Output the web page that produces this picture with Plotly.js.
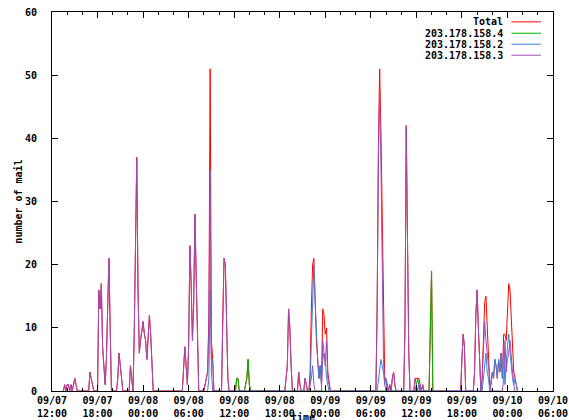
<!DOCTYPE html>
<html>
<head>
<meta charset="utf-8">
<script src="https://cdn.plot.ly/plotly-3.0.1.min.js"></script>
<style>
  html, body { margin: 0; padding: 0; background: #ffffff; }
  #chart { width: 569px; height: 420px; }
</style>
</head>
<body>
<div id="chart"></div>
<script>
// Time = minutes after 09/07 12:00
const tickVals = [0, 360, 720, 1080, 1440, 1800, 2160, 2520, 2880, 3240, 3600, 3960];
const tickText = ["09/07<br>12:00", "09/07<br>18:00", "09/08<br>00:00", "09/08<br>06:00",
                  "09/08<br>12:00", "09/08<br>18:00", "09/09<br>00:00", "09/09<br>06:00",
                  "09/09<br>12:00", "09/09<br>18:00", "09/10<br>00:00", "09/10<br>06:00"];
const seriesNames = ["Total", "203.178.158.4", "203.178.158.2", "203.178.158.3"];

// Total
const tTotal = [90,100,110,120,130,140,150,160,170,180,190,200,
  290,300,310,320,330,
  360,370,380,390,400,410,420,430,440,450,460,470,
  510,520,530,540,550,560,
  610,620,630,640,650,660,670,680,690,700,710,720,730,740,750,760,770,780,790,800,
  1030,1040,1050,1060,1070,1080,1090,1100,1110,1120,1130,1140,1150,1160,
  1200,1210,1220,1230,1240,1250,1260,1270,1280,
  1340,1350,1360,1370,1380,1390,1400,
  1450,1460,1470,1480,1520,1530,1540,1550,1560,1570,
  1840,1850,1860,1870,1880,1890,1900,1940,1950,1960,1970,1990,2000,2010,2020,
  2030,2040,2050,2060,2070,2080,2090,2100,2110,2120,2130,2140,2150,2160,2170,2180,2190,2200,
  2560,2570,2580,2590,2600,2610,2620,2630,2640,2650,2660,2670,2680,2690,2700,2710,2720,
  2780,2790,2800,2810,2820,2830,
  2860,2870,2880,2890,2900,2910,2920,2930,2940,2980,2990,3000,3010,
  3230,3240,3250,3260,3270,
  3330,3340,3350,3360,3370,3380,3390,3400,3410,3420,3430,3440,3450,3460,3470,3480,3490,3500,
  3510,3520,3530,3540,3550,3560,3570,3580,3590,3600,3610,3620,3630,3640,3650,3660,3670,3680];
const vTotal = [0,1,0,1,1,0,1,0,1,2,1,0,
  0,3,2,1,0,
  0,16,13,17,7,3,1,5,13,21,10,0,
  0,2,6,4,1,0,
  0,4,2,0,9,28,37,16,6,8,10,11,9,8,5,9,12,9,3,0,
  0,4,7,4,1,7,23,17,8,14,28,18,6,0,
  0,1,2,3,12,51,8,5,0,
  0,12,21,20,9,2,0,
  0,2,2,0,0,1,2,5,1,0,
  0,2,4,13,10,4,0,0,3,1,0,0,2,1,0,
  0,3,13,20,21,14,8,5,2,4,1,13,12,9,10,3,1,0,
  0,13,39,51,41,28,9,2,2,1,0,1,0,2,3,1,0,
  0,10,42,25,6,0,
  0,2,2,2,2,1,0,1,0,0,9,19,0,
  0,5,9,7,0,
  0,3,12,16,10,3,0,2,9,14,15,10,5,1,1,3,2,5,
  4,2,5,3,6,2,9,9,8,12,17,16,11,7,3,2,1,0];

// 203.178.158.4
const tHost4 = [1450,1460,1470,1480,1520,1530,1540,1550,1560,1570,
  2870,2880,2890,2900,2910,2980,2990,3000,3010];
const vHost4 = [0,2,2,0,0,1,2,5,1,0,
  0,1,2,1,0,0,9,19,0];

// 203.178.158.2
const tHost2 = [1230,1240,1250,1260,1270,1280,
  2030,2040,2050,2060,2070,2080,2090,2100,2110,2120,2130,2140,2150,2160,2170,2180,2190,
  2570,2580,2590,2600,2610,2620,2630,2640,2650,
  2890,2900,2910,
  3400,3410,3420,3430,3440,3450,3460,3470,3480,3490,3500,3510,3520,3530,3540,3550,3560,
  3570,3580,3590,3600,3610,3620,3630,3640,3650,3660,3670,3680];
const vHost2 = [0,2,16,5,5,0,
  0,1,8,16,20,14,8,5,2,4,1,5,6,5,2,1,0,
  0,2,4,5,4,3,1,2,0,
  0,1,0,
  0,2,3,6,3,2,0,1,3,2,5,4,2,5,3,6,2,
  7,1,5,7,9,6,4,2,1,2,1,0];

// 203.178.158.3
const tHost3 = [90,100,110,120,130,140,150,160,170,180,190,200,
  290,300,310,320,330,
  360,370,380,390,400,410,420,430,440,450,460,470,
  510,520,530,540,550,560,
  610,620,630,640,650,660,670,680,690,700,710,720,730,740,750,760,770,780,790,800,
  1030,1040,1050,1060,1070,1080,1090,1100,1110,1120,1130,1140,1150,1160,
  1200,1210,1220,1230,1240,1250,1260,1270,
  1340,1350,1360,1370,1380,1390,1400,
  1840,1850,1860,1870,1880,1890,1900,1940,1950,1960,1970,1990,2000,2010,2020,
  2030,2040,2050,2060,2070,2080,2130,2140,2150,2160,2170,2180,2190,2200,
  2560,2570,2580,2590,2600,2610,2620,2630,2640,2650,2660,2670,2680,2690,2700,2710,2720,
  2780,2790,2800,2810,2820,2830,
  2860,2870,2880,2890,2900,2910,2920,2930,2940,
  3230,3240,3250,3260,3270,
  3330,3340,3350,3360,3370,3380,3390,3400,3410,3420,3430,3440,3450,3460,3470,
  3560,3570,3580,3590,3600,3610,3620,3630,3640,3650,3660];
const vHost3 = [0,1,0,1,1,0,1,0,1,2,1,0,
  0,3,2,1,0,
  0,16,13,17,7,3,1,5,13,21,10,0,
  0,2,6,4,1,0,
  0,4,2,0,9,28,37,16,6,8,10,11,9,8,5,9,12,9,3,0,
  0,4,7,4,1,7,23,17,8,14,28,18,6,0,
  0,1,2,3,10,35,3,0,
  0,12,21,20,9,2,0,
  0,2,4,13,10,4,0,0,3,1,0,0,2,1,0,
  0,1,2,4,1,0,0,8,6,4,8,2,1,0,
  0,13,37,47,36,24,5,1,0,1,0,1,0,2,3,1,0,
  0,10,42,25,6,0,
  0,2,1,0,0,1,0,1,0,
  0,5,9,7,0,
  0,3,12,16,10,3,0,2,7,11,8,6,3,1,0,
  0,2,8,3,5,6,8,5,3,1,0];

const colors = ["#ff0000", "#00b400", "#3c80dc", "#a04cb4"];
const times = [tTotal, tHost4, tHost2, tHost3];
const values = [vTotal, vHost4, vHost2, vHost3];

const FONT = "DejaVu Sans Mono, Liberation Mono, monospace";

const traces = seriesNames.map((name, i) => ({
  type: "scatter",
  mode: "lines",
  name: name,
  x: times[i],
  y: values[i],
  line: { color: colors[i], width: 1 },
  showlegend: false,
  hoverinfo: "x+y+name"
}));

// gnuplot-style key: right-aligned text with the line sample to its right
const keyRowsY = [0.974, 0.944, 0.915, 0.886];
const annotations = seriesNames.map((name, i) => ({
  xref: "paper", yref: "paper", x: 0.905, y: keyRowsY[i],
  xanchor: "right", yanchor: "middle", text: name, showarrow: false,
  font: { family: FONT, size: 10, color: "#000", weight: "bold" }
}));
annotations.push({
  xref: "paper", yref: "paper", x: 0.5, y: -0.07, xanchor: "center", yanchor: "middle",
  text: "time", showarrow: false,
  font: { family: FONT, size: 10, color: "#000", weight: "bold" }
});
const shapes = seriesNames.map((name, i) => ({
  type: "line", xref: "paper", yref: "paper",
  x0: 0.917, x1: 0.976, y0: keyRowsY[i], y1: keyRowsY[i],
  line: { color: colors[i], width: 1 }
}));

const tickFont = { family: FONT, size: 10, color: "#000", weight: "bold" };

const layout = {
  width: 569, height: 420,
  margin: { l: 52, r: 16, t: 12, b: 29 },
  paper_bgcolor: "#ffffff",
  plot_bgcolor: "#ffffff",
  showlegend: false,
  xaxis: {
    range: [0, 3960],
    tickmode: "array", tickvals: tickVals, ticktext: tickText,
    ticks: "inside", ticklen: 6, tickcolor: "#000", tickwidth: 1,
    minor: { tickmode: "linear", tick0: 0, dtick: 120, ticks: "inside", ticklen: 3, tickcolor: "#000" },
    showline: true, linecolor: "#000", linewidth: 1, mirror: "ticks",
    showgrid: false, zeroline: false,
    tickfont: tickFont
  },
  yaxis: {
    range: [0, 60], dtick: 10, tick0: 0,
    ticks: "inside", ticklen: 6, tickcolor: "#000", tickwidth: 1,
    showline: true, linecolor: "#000", linewidth: 1, mirror: "ticks",
    showgrid: false, zeroline: false,
    tickfont: tickFont,
    ticklabelstandoff: 12,
    title: { text: "number of mail", font: { family: FONT, size: 10, color: "#000", weight: "bold" }, standoff: 0 }
  },
  annotations: annotations,
  shapes: shapes
};

Plotly.newPlot("chart", traces, layout, { displayModeBar: false, staticPlot: true });
</script>
</body>
</html>
